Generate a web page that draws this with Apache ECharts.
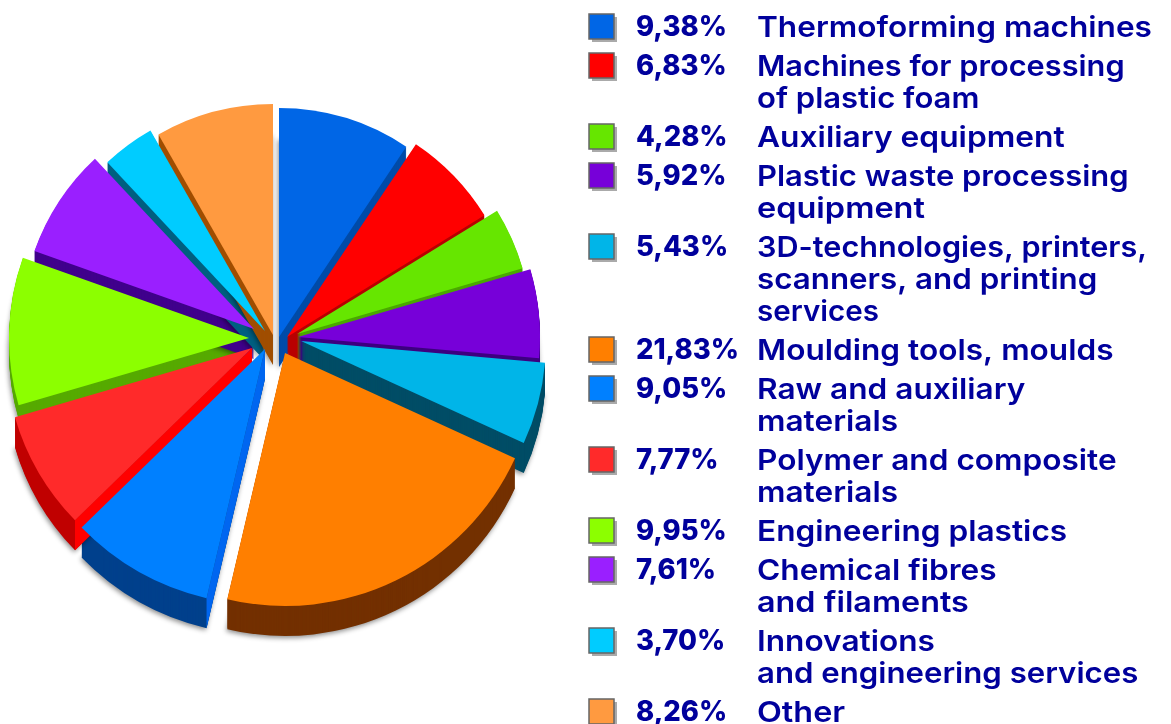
<!DOCTYPE html>
<html><head><meta charset="utf-8">
<style>html,body{margin:0;padding:0;background:#fff}#c{width:1171px;height:724px}</style>
<script src="https://cdn.jsdelivr.net/npm/echarts@6/dist/echarts.min.js"></script>
</head><body><div id="c"></div>
<script>
const percents = [9.38, 6.83, 4.28, 5.92, 5.43, 21.83, 9.05, 7.77, 9.95, 7.61, 3.70, 8.26];
const percentLabels = ['9,38%','6,83%','4,28%','5,92%','5,43%','21,83%','9,05%','7,77%','9,95%','7,61%','3,70%','8,26%'];
const names = [
  ['Thermoforming machines'],
  ['Machines for processing','of plastic foam'],
  ['Auxiliary equipment'],
  ['Plastic waste processing','equipment'],
  ['3D-technologies, printers,','scanners, and printing','services'],
  ['Moulding tools, moulds'],
  ['Raw and auxiliary','materials'],
  ['Polymer and composite','materials'],
  ['Engineering plastics'],
  ['Chemical fibres','and filaments'],
  ['Innovations','and engineering services'],
  ['Other']
];
const topColors = ['#0066e6','#ff0000','#66e600','#7700d9','#00b5e8','#ff7f00','#0080ff','#ff2a2a','#8cff00','#9a1fff','#00ccff','#ff9a40'];
const sideColors = ['#004ba8','#b80000','#4aa800','#3d0080','#004d66','#733000','#00408c','#c00000','#56aa00','#40008c','#005f80','#a04e00'];
const wallColors = [null,null,null,null,null,null,'#0066f0','#ff0000',null,null,null,null];
// per-slice exploded apex, radius and extrusion (perspective changes each slice's apparent size)
const apexes = [[279,337],[287,337],[297,334],[298,337],[301,341],[285,353],[265,349],[252,348],[249,338],[254,329],[265,331],[273,335]];
const radii = [229,232,235,242,245,253,256,247,240,233,231,231];
const depths = [30,30,30,30,30,30,30,30,14,30,30,30];
// horizontal stretch of each legend line, to approximate the wide original typeface
const lineStretch = [[1.09],[1.06,1.07],[1.095],[1.067,1.12],[1.055,1.08,1.02],[1.09],[1.09,1.09],[1.09,1.09],[1.09],[1.09,1.115],[1.09,1.075],[1.115]];

const FONT = 'Inter, "Noto Sans", sans-serif';
const series = [];
function slicePie(i, color, dy, z, extra){
  return {type:'pie', silent:true, animation:false, clockwise:true, startAngle:90, z,
    center:[apexes[i][0], apexes[i][1]+dy], radius:[0,radii[i]],
    label:{show:false}, labelLine:{show:false}, emphasis:{disabled:true},
    data: percents.map((v,k)=>({value:v, name:names[k].join(' '),
      itemStyle: k===i ? Object.assign({color}, extra||{}) : {color:'transparent'}}))};
}
percents.forEach((v,i)=>{
  series.push(slicePie(i, sideColors[i], depths[i], 2, {shadowBlur:5, shadowColor:'rgba(0,0,0,0.45)', shadowOffsetX:-1, shadowOffsetY:2}));
  for(let d=depths[i]-1; d>0; d--) series.push(slicePie(i, sideColors[i], d, 2));
});
// lit radial walls of the slices that face the viewer
series.push({type:'custom', silent:true, animation:false, z:3, coordinateSystem:'none',
  data: percents.map((v,i)=>[v,i]),
  renderItem(params, api){
    const i = api.value(1);
    if(!wallColors[i]) return {type:'group', children:[]};
    const before = percents.slice(0,i).reduce((a,b)=>a+b,0);
    const total = percents.reduce((a,b)=>a+b,0);
    const ang = before/total*2*Math.PI;
    const [ax,ay] = apexes[i], r = radii[i], dp = depths[i];
    const ex = ax+r*Math.sin(ang), ey = ay-r*Math.cos(ang);
    return {type:'polygon', shape:{points:[[ax,ay],[ex,ey],[ex,ey+dp],[ax,ay+dp]]}, style:{fill:wallColors[i]}};
  }});
percents.forEach((v,i)=>series.push(slicePie(i, topColors[i], 0, 4)));

const graphic = [];
const LINE = 32, GAP = 7;
let y = 27;
names.forEach((lines,i)=>{
  graphic.push({type:'rect', silent:true, shape:{x:592,y:y-10,width:25,height:25}, style:{fill:'#aaaaaa'}});
  graphic.push({type:'rect', silent:true, shape:{x:589,y:y-13,width:25,height:25}, style:{fill:topColors[i],stroke:'#666666',lineWidth:1.5}});
  graphic.push({type:'text', silent:true, x:636, y:y+1, scaleX:0.98, style:{text:percentLabels[i], fill:'#00009c', font:'800 28px '+FONT, textVerticalAlign:'middle'}});
  lines.forEach((t,j)=>graphic.push({type:'text', silent:true, x:757, y:y+j*LINE+1, scaleX:lineStretch[i][j], style:{text:t, fill:'#00009c', font:'600 29px '+FONT, textVerticalAlign:'middle'}}));
  y += lines.length*LINE + GAP;
});

echarts.init(document.getElementById('c')).setOption({animation:false, series, graphic});
</script></body></html>
